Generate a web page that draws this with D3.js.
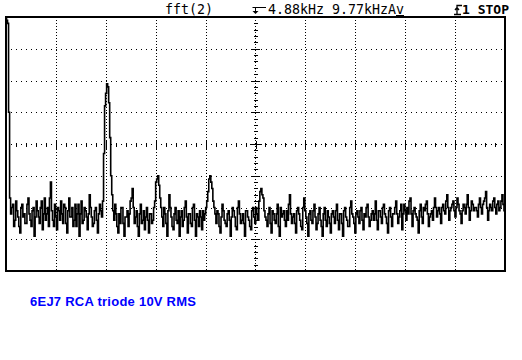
<!DOCTYPE html>
<html>
<head>
<meta charset="utf-8">
<script src="https://cdn.jsdelivr.net/npm/d3@7/dist/d3.min.js"></script>
<style>
  body { margin: 0; background: #fff; }
  svg { display: block; }
  .hdr { font-family: "DejaVu Sans Mono", monospace; font-size: 13.3px; fill: #000; }
  .hdr-bold { font-family: "DejaVu Sans Mono", monospace; font-size: 13px; font-weight: bold; fill: #000; }
  .caption { font-family: "Liberation Sans", Arial, sans-serif; font-size: 13px; font-weight: bold; fill: #0000ff; }
</style>
</head>
<body>
<svg id="scope" width="522" height="360"></svg>
<script>
// FFT setup (kHz)
const centerKHz = 4.88;
const spanKHz = 9.77;
const freqStep = 0.04;

// trace level on the even bins, dB (10 dB/div, top = 0 dB)
const levels = [
  0, -2, -57, -60, -66, -58, -63, -68, -59, -62,
  -65, -57, -64, -61, -69, -58, -63, -60, -67, -57,
  -62, -66, -52, -64, -59, -67, -61, -58, -65, -60,
  -68, -57, -63, -66, -59, -62, -69, -58, -64, -61,
  -67, -56, -63, -65, -60, -68, -59, -63, -43, -24,
  -22, -38, -56, -64, -62, -68, -65, -60, -69, -63,
  -66, -58, -54, -65, -61, -69, -59, -64, -67, -60,
  -68, -62, -64, -58, -51, -53, -60, -66, -62, -69,
  -56, -63, -67, -60, -65, -69, -61, -64, -58, -68,
  -62, -66, -59, -69, -63, -61, -67, -64, -60, -55,
  -50, -54, -60, -65, -62, -68, -59, -64, -66, -61,
  -69, -60, -63, -67, -58, -65, -62, -69, -61, -64,
  -67, -60, -65, -62, -58, -54, -57, -63, -66, -60,
  -68, -62, -65, -59, -69, -63, -61, -66, -64, -56,
  -65, -62, -68, -60, -64, -67, -57, -63, -69, -61,
  -65, -59, -67, -62, -64, -69, -60, -66, -63, -68,
  -61, -65, -59, -67, -62, -69, -60, -64, -66, -58,
  -63, -68, -61, -65, -60, -67, -63, -59, -66, -62,
  -64, -58, -67, -61, -65, -59, -63, -68, -60, -66,
  -62, -58, -65, -61, -67, -59, -64, -62, -57, -66,
  -60, -63, -68, -59, -65, -61, -58, -66, -62, -64,
  -57, -63, -60, -65, -59, -62, -56, -64, -60, -58,
  -63, -57, -61, -65, -59, -62, -56, -64, -58, -61,
  -60, -63, -57, -62, -58, -55, -64, -59, -61, -57,
  -62, -58, -60, -56, -61
];

// trace level on the odd (in-between) bins, dB
const levelsMid = [
  -1, -30, -62, -59, -64, -61, -66, -60, -63, -65,
  -59, -62, -66, -60, -63, -61, -65, -58, -62, -64,
  -60, -57, -61, -66, -63, -60, -64, -62, -59, -65,
  -61, -63, -60, -64, -66, -59, -62, -65, -60, -63,
  -62, -60, -66, -61, -64, -62, -61, -58, -28, -21,
  -27, -50, -61, -59, -66, -62, -60, -65, -63, -61,
  -62, -57, -60, -63, -66, -62, -65, -61, -63, -64,
  -62, -65, -60, -52, -50, -57, -63, -60, -65, -61,
  -60, -66, -62, -64, -61, -63, -66, -60, -63, -62,
  -65, -60, -64, -62, -66, -63, -61, -62, -58, -51,
  -52, -58, -62, -61, -66, -63, -61, -65, -62, -64,
  -63, -61, -66, -60, -62, -64, -65, -61, -63, -66,
  -61, -63, -60, -64, -55, -56, -61, -64, -62, -65,
  -61, -64, -62, -66, -60, -62, -64, -61, -59, -62,
  -63, -65, -61, -62, -66, -60, -61, -65, -62, -64,
  -61, -63, -65, -60, -66, -62, -64, -61, -65, -62,
  -63, -61, -64, -62, -65, -61, -63, -66, -60, -62,
  -65, -62, -63, -61, -64, -62, -60, -63, -64, -61,
  -62, -64, -61, -63, -60, -62, -65, -61, -63, -62,
  -60, -62, -63, -59, -62, -61, -60, -58, -62, -61,
  -62, -64, -61, -63, -60, -59, -62, -63, -61, -60,
  -60, -61, -62, -60, -61, -58, -60, -61, -59, -61,
  -60, -59, -62, -61, -60, -59, -60, -61, -59, -60,
  -61, -59, -60, -59, -57, -60, -61, -60, -58, -60,
  -59, -61, -58, -59
];

const xDivs = d3.range(0, 11);   // 10 horizontal divisions
const yDivs = d3.range(0, 9);    // 8 vertical divisions
const headerText = ["fft(2)", "4.88kHz 9.77kHzAv", "1 STOP"];
const captionText = "6EJ7 RCA triode 10V RMS";

// interleave the two bin sets into one trace
const trace = [];
levels.forEach((v, i) => {
  trace.push({ f: i * freqStep, v });
  if (i < levelsMid.length) trace.push({ f: (i + 0.5) * freqStep, v: levelsMid[i] });
});

const svg = d3.select('#scope');
const pL = 6, pR = 505, pT = 17, pB = 271;

const x = d3.scaleLinear().domain([0, spanKHz]).range([pL, pR]);
const y = d3.scaleLinear().domain([-80, 0]).range([pB, pT]);
const divX = spanKHz / 10;
const divY = 10;
const cx = x(centerKHz), cy = y(-40);

// dotted graticule
const grid = svg.append('g').attr('stroke', '#000').attr('stroke-width', 1).attr('shape-rendering', 'crispEdges');
grid.selectAll('.vg').data(xDivs.filter(d => d > 0 && d < 10 && d !== 5)).join('line')
  .attr('x1', d => Math.round(x(d * divX)) + 0.5).attr('x2', d => Math.round(x(d * divX)) + 0.5)
  .attr('y1', pT).attr('y2', pB)
  .attr('stroke-dasharray', '1,2');
grid.selectAll('.hg').data(yDivs.filter(d => d > 0 && d < 8 && d !== 4)).join('line')
  .attr('x1', pL).attr('x2', pR)
  .attr('y1', d => Math.round(y(-d * divY)) + 0.5).attr('y2', d => Math.round(y(-d * divY)) + 0.5)
  .attr('stroke-dasharray', '1,4');

// center axes with minor ticks
const hy = Math.round(cy) + 0.5, vx = Math.round(cx) + 0.5;
grid.append('line').attr('x1', pL).attr('x2', pR).attr('y1', hy).attr('y2', hy).attr('stroke-dasharray', '1,4');
grid.append('line').attr('x1', vx).attr('x2', vx).attr('y1', pT).attr('y2', pB).attr('stroke-dasharray', '1,2');

const hTicks = d3.range(1, 50);
grid.selectAll('.ht').data(hTicks).join('line')
  .attr('x1', d => Math.round(x(d * divX / 5)) + 0.5).attr('x2', d => Math.round(x(d * divX / 5)) + 0.5)
  .attr('y1', d => hy - (d % 5 === 0 ? 4 : 2)).attr('y2', d => hy + (d % 5 === 0 ? 4 : 2));
const vTicks = d3.range(1, 40);
grid.selectAll('.vt').data(vTicks).join('line')
  .attr('y1', d => Math.round(y(-d * divY / 5)) + 0.5).attr('y2', d => Math.round(y(-d * divY / 5)) + 0.5)
  .attr('x1', d => vx - (d % 5 === 0 ? 4 : 2)).attr('x2', d => vx + (d % 5 === 0 ? 4 : 2));
grid.append('line').attr('x1', vx - 6).attr('x2', vx + 6).attr('y1', hy).attr('y2', hy);

// trace
svg.append('clipPath').attr('id', 'plot')
  .append('rect').attr('x', pL).attr('y', pT).attr('width', pR - pL).attr('height', pB - pT);
const line = d3.line()
  .x(d => x(d.f))
  .y(d => y(d.v))
  .curve(d3.curveStep);
svg.append('path')
  .datum(trace)
  .attr('clip-path', 'url(#plot)')
  .attr('fill', 'none')
  .attr('stroke', '#000')
  .attr('stroke-width', 1.6)
  .attr('d', line);

// frame
svg.append('rect')
  .attr('x', pL).attr('y', pT).attr('width', pR - pL).attr('height', pB - pT)
  .attr('fill', 'none').attr('stroke', '#000').attr('stroke-width', 2);

// header
svg.append('text').attr('class', 'hdr').attr('x', 165).attr('y', 14).text(headerText[0]);
svg.append('path')
  .attr('d', `M${vx - 3},7.5H266M${vx},7.5V13`)
  .attr('fill', 'none').attr('stroke', '#000').attr('stroke-width', 1);
svg.append('path').attr('d', `M${vx - 3},11L${vx + 3},11L${vx},14Z`).attr('fill', '#000');
svg.append('text').attr('class', 'hdr').attr('x', 268).attr('y', 14).text(headerText[1]);
svg.append('line').attr('x1', 396).attr('x2', 404).attr('y1', 15.5).attr('y2', 15.5)
  .attr('stroke', '#000').attr('stroke-width', 1);

// trigger slope glyph
svg.append('path')
  .attr('d', 'M454,14.5H461M457,14.5V5.5H462M455,10L457,7.5L459,10')
  .attr('fill', 'none').attr('stroke', '#000').attr('stroke-width', 1.3);
svg.append('text').attr('class', 'hdr-bold').attr('x', 462).attr('y', 14).text(headerText[2]);

// caption
svg.append('text').attr('class', 'caption')
  .attr('x', 30).attr('y', 306)
  .attr('textLength', 166).attr('lengthAdjust', 'spacing')
  .text(captionText);
</script>
</body>
</html>
